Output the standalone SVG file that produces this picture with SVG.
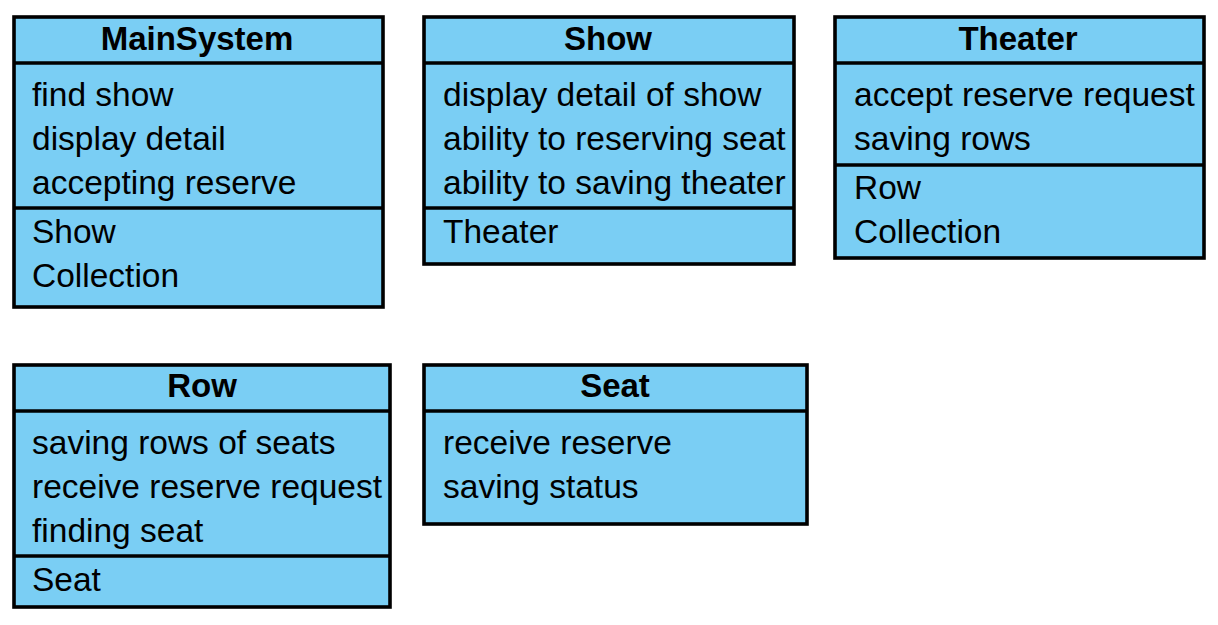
<svg xmlns="http://www.w3.org/2000/svg" width="1218" height="625" viewBox="0 0 1218 625">
<style>
.box{fill:#7ACEF4;stroke:#000;stroke-width:3.6}
.ln{stroke:#000;stroke-width:3.6}
.t{font-family:"Liberation Sans",Arial,sans-serif;font-size:33px;font-weight:bold;fill:#000;text-anchor:middle}
.b{font-family:"Liberation Sans",Arial,sans-serif;font-size:33.5px;fill:#000}
</style>
<rect width="1218" height="625" fill="#fff"/>
<g id="connectors"></g>
<g id="MainSystem">
<rect class="box" x="14" y="17" width="369" height="290"/>
<line class="ln" x1="14" y1="63" x2="383" y2="63"/>
<line class="ln" x1="14" y1="208" x2="383" y2="208"/>
<text class="t" x="197" y="50">MainSystem</text>
<text class="b" x="32" y="106">find show</text>
<text class="b" x="32" y="150">display detail</text>
<text class="b" x="32" y="194">accepting reserve</text>
<text class="b" x="32" y="243">Show</text>
<text class="b" x="32" y="287">Collection</text>
</g>
<g id="Show">
<rect class="box" x="424" y="17" width="370" height="247"/>
<line class="ln" x1="424" y1="63" x2="794" y2="63"/>
<line class="ln" x1="424" y1="208" x2="794" y2="208"/>
<text class="t" x="608" y="50">Show</text>
<text class="b" x="443" y="106">display detail of show</text>
<text class="b" x="443" y="150">ability to reserving seat</text>
<text class="b" x="443" y="194">ability to saving theater</text>
<text class="b" x="443" y="243">Theater</text>
</g>
<g id="Theater">
<rect class="box" x="835" y="17" width="369" height="241"/>
<line class="ln" x1="835" y1="63" x2="1204" y2="63"/>
<line class="ln" x1="835" y1="165" x2="1204" y2="165"/>
<text class="t" x="1018" y="50">Theater</text>
<text class="b" x="854" y="106">accept reserve request</text>
<text class="b" x="854" y="150">saving rows</text>
<text class="b" x="854" y="199">Row</text>
<text class="b" x="854" y="243">Collection</text>
</g>
<g id="Row">
<rect class="box" x="14" y="365" width="376" height="242"/>
<line class="ln" x1="14" y1="411" x2="390" y2="411"/>
<line class="ln" x1="14" y1="556" x2="390" y2="556"/>
<text class="t" x="202" y="397">Row</text>
<text class="b" x="32" y="454">saving rows of seats</text>
<text class="b" x="32" y="498">receive reserve request</text>
<text class="b" x="32" y="542">finding seat</text>
<text class="b" x="32" y="591">Seat</text>
</g>
<g id="Seat">
<rect class="box" x="424" y="365" width="383" height="159"/>
<line class="ln" x1="424" y1="411" x2="807" y2="411"/>
<text class="t" x="615" y="397">Seat</text>
<text class="b" x="443" y="454">receive reserve</text>
<text class="b" x="443" y="498">saving status</text>
</g>
</svg>
